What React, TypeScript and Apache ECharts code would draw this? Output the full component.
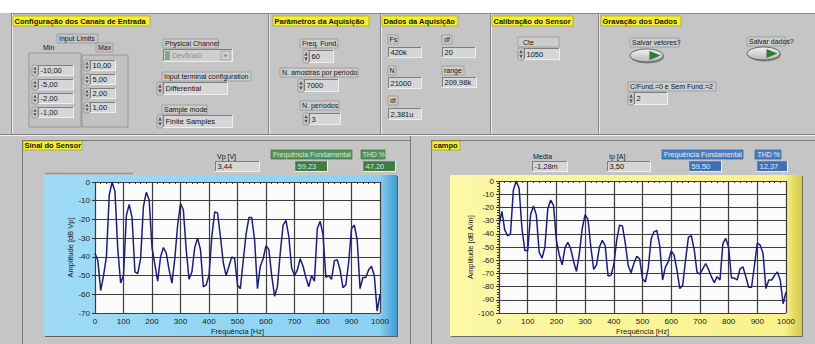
import React, { useEffect, useRef } from "react";
import * as echarts from "echarts";

// ---------- data ----------
const FREQ_HZ = [
  0, 10, 20, 30, 40, 50, 60, 70, 80, 90,
  100, 110, 120, 130, 140, 150, 160, 170, 180, 190,
  200, 210, 220, 230, 240, 250, 260, 270, 280, 290,
  300, 310, 320, 330, 340, 350, 360, 370, 380, 390,
  400, 410, 420, 430, 440, 450, 460, 470, 480, 490,
  500, 510, 520, 530, 540, 550, 560, 570, 580, 590,
  600, 610, 620, 630, 640, 650, 660, 670, 680, 690,
  700, 710, 720, 730, 740, 750, 760, 770, 780, 790,
  800, 810, 820, 830, 840, 850, 860, 870, 880, 890,
  900, 910, 920, 930, 940, 950, 960, 970, 980, 990,
  1000,
];

const SENSOR_DB = [
  -38, -42, -58, -50, -40, -7, 0, -5, -36, -54,
  -50, -18, -12, -19, -48, -49, -41, -13, -5.5, -9.5,
  -35, -44, -53, -40, -35, -38, -47, -54, -41, -23,
  -11.5, -15, -36, -52, -48, -35, -30, -36, -56, -55,
  -50, -29, -16, -16.5, -29, -43, -50, -45, -40, -41,
  -55, -57, -42, -28, -19, -19, -31, -57, -45, -41,
  -34, -36, -50, -61, -56, -38, -23, -20.5, -29, -46,
  -50, -47, -41, -45, -51, -56, -50, -53, -25, -21,
  -28, -51, -50, -52, -42, -41.5, -47, -56.5, -55, -43,
  -25, -23, -31, -57, -51, -51, -47, -45, -50, -69,
  -60,
];

const CAMPO_DB = [
  -33.5, -23, -37, -41.5, -40, -7, 0, -5.5, -36, -52.5,
  -53, -25.5, -19, -25.5, -54, -58.5, -50, -21, -14.5, -18.5,
  -45, -56, -63.5, -50.5, -46.5, -51.5, -61, -68.5, -55, -36,
  -25.5, -29, -50, -67, -63.5, -50, -45, -49, -72, -71.5,
  -63.5, -45, -33.5, -34, -47, -64, -69.5, -62.5, -57, -59,
  -74, -76.5, -66, -44, -38.5, -37.5, -49, -75, -65, -61,
  -53, -56, -67.5, -81.5, -79, -60, -42.5, -41.5, -51.5, -69,
  -70.5, -66.5, -62.5, -67, -72.5, -77, -72.5, -75, -47.5, -43.5,
  -50, -73.5, -73.5, -75, -66.5, -65, -72.5, -80.5, -80.5, -64,
  -47, -48.5, -55, -81.5, -75, -75, -71.5, -69, -75, -93,
  -84,
];

const LIMIT_MIN = ["-10,00", "-5,00", "-2,00", "-1,00"];
const LIMIT_MAX = ["10,00", "5,00", "2,00", "1,00"];

const SENSOR_READOUT = { vp: "3,44", freq: "59,23", thd: "47,20" };
const CAMPO_READOUT = { media: "-1,28m", ip: "3,50", freq: "59,50", thd: "12,37" };

// ---------- styling ----------
const FONT = "Liberation Sans";
const PANEL = "#c5c5c5";
const YEL = "#f6f12e";
const INK = "#141414";

function buildPanel() {
  const els: any[] = [];
  const rect = (x: number, y: number, w: number, h: number, fill: any, stroke: string | null = null, lw = 1, z = 1, r = 0) =>
    els.push({ type: "rect", z, silent: true, shape: { x, y, width: w, height: h, r }, style: { fill: fill ?? "none", stroke: stroke ?? "none", lineWidth: lw } });
  const line = (x1: number, y1: number, x2: number, y2: number, stroke: string, lw = 1, z = 2) =>
    els.push({ type: "line", z, silent: true, shape: { x1, y1, x2, y2 }, style: { stroke, lineWidth: lw } });
  const poly = (pts: number[][], fill: string, z = 4) =>
    els.push({ type: "polygon", z, silent: true, shape: { points: pts }, style: { fill } });
  const text = (x: number, y: number, t: string, o: any = {}) =>
    els.push({
      type: "text", z: 6, silent: true, x, y,
      style: {
        text: t, fill: o.fill || INK, fontSize: o.size || 7, fontFamily: FONT,
        fontWeight: o.bold ? "bold" : "normal", textAlign: o.align || "left", textVerticalAlign: "middle",
      },
    });
  const sunk = (x: number, y: number, w: number, h: number, fill = "#d6d6d6") => {
    rect(x, y, w, h, fill, null, 0, 2);
    line(x, y + 0.5, x + w, y + 0.5, "#7e7e7e", 1, 3);
    line(x + 0.5, y, x + 0.5, y + h, "#7e7e7e", 1, 3);
    line(x, y + h - 0.5, x + w, y + h - 0.5, "#eeeeee", 1, 3);
    line(x + w - 0.5, y, x + w - 0.5, y + h, "#eeeeee", 1, 3);
  };
  const spin = (x: number, y: number, h: number) => {
    rect(x, y, 6, h, "#d2d2d2", "#8a8a8a", 0.8, 3, 2);
    poly([[x + 1.2, y + h / 2 - 0.8], [x + 4.8, y + h / 2 - 0.8], [x + 3, y + 1.6]], "#5a5a5a");
    poly([[x + 1.2, y + h / 2 + 0.8], [x + 4.8, y + h / 2 + 0.8], [x + 3, y + h - 1.6]], "#5a5a5a");
  };
  const ctrl = (x: number, y: number, w: number, h: number, t: string, o: any = {}) => {
    let bx = x;
    if (o.spin) { spin(x, y, h); bx = x + 6; }
    sunk(bx, y, w - (bx - x), h, o.fill);
    text(bx + 2.5, y + h / 2 + 0.3, t, { fill: o.color, size: o.size || 7.5 });
  };
  const lbl = (x: number, y: number, w: number, h: number, t: string, o: any = {}) => {
    rect(x, y, w, h, o.fill || "#cdcdcd", o.stroke || "#8f8f8f", 0.7, 2);
    text(x + (o.pad ?? 2), y + h / 2 + 0.3, t, { fill: o.color, size: o.size || 7 });
  };
  const title = (x: number, y: number, w: number, t: string, h = 10) => {
    rect(x, y, w, h, YEL, "#9a9400", 0.6, 2);
    text(x + 1.5, y + h / 2 + 0.3, t, { bold: true, size: 7.5 });
  };
  const button = (cx: number, cy: number) => {
    els.push({ type: "ellipse", z: 3, silent: true, shape: { cx: cx + 1, cy: cy + 1.5, rx: 16.5, ry: 6.5 }, style: { fill: "#8a8a8a" } });
    els.push({
      type: "ellipse", z: 4, silent: true, shape: { cx, cy, rx: 16.5, ry: 6.5 },
      style: {
        fill: { type: "linear", x: 0, y: 0, x2: 0, y2: 1, colorStops: [{ offset: 0, color: "#f2f2f2" }, { offset: 1, color: "#b8b8b8" }] },
        stroke: "#4a4a4a", lineWidth: 0.8,
      },
    });
    poly([[cx + 3, cy - 4.5], [cx + 14, cy], [cx + 3, cy + 4.5]], "#2e7d2e", 5);
  };

  // background
  rect(0, 13, 815, 331, PANEL, null, 0, 0);

  // top panel frame + separators
  line(11, 13.5, 815, 13.5, "#8a8a8a");
  line(11.5, 13, 11.5, 135, "#8a8a8a");
  line(12.5, 14, 12.5, 134, "#ececec");
  [268, 380, 490, 598].forEach((x) => {
    line(x + 0.5, 14, x + 0.5, 134, "#868686");
    line(x + 1.5, 14, x + 1.5, 134, "#ececec");
  });
  line(0, 134.5, 815, 134.5, "#868686");
  line(0, 135.5, 815, 135.5, "#ececec");

  // bottom panel frames
  line(22.5, 140, 22.5, 344, "#7a7a7a");
  line(22, 140.5, 410, 140.5, "#7a7a7a");
  line(410.5, 136, 410.5, 344, "#7a7a7a");
  line(431.5, 140, 431.5, 344, "#7a7a7a");
  line(431, 140.5, 815, 140.5, "#7a7a7a");

  // section titles
  title(13, 16, 137, "Configuração dos Canais de Entrada");
  title(273, 16, 96, "Parâmetros da Aquisição");
  title(382, 16, 76, "Dados da Aquisição");
  title(492, 16, 81, "Calibração do Sensor");
  title(601, 16, 80, "Gravação dos Dados");
  title(23, 141, 59, "Sinal do Sensor", 9);
  title(432, 141, 28, "campo", 9);

  // --- Configuração dos Canais de Entrada ---
  lbl(57, 34, 41, 9, "Input Limits", { fill: PANEL });
  text(43, 47.5, "Min");
  lbl(96, 43, 17, 9, "Max", { fill: PANEL });
  rect(29, 53, 52, 74, "#c2c2c2", "#8a8a8a", 0.8, 1);
  rect(82, 55, 46, 72, "#c2c2c2", "#8a8a8a", 0.8, 1);
  LIMIT_MIN.forEach((v, i) => ctrl(32, 65 + 14 * i, 42, 11, v, { spin: true }));
  LIMIT_MAX.forEach((v, i) => ctrl(84, 60 + 14 * i, 32, 11, v, { spin: true }));

  lbl(163, 39, 55, 9, "Physical Channel");
  sunk(163, 49, 70, 13, "#cfcfcf");
  rect(165, 51, 5, 9, "#7fa88a", null, 0, 4);
  text(172, 55.8, "Dev5/ai0", { fill: "#8c8c8c", size: 7.5 });
  rect(221, 51, 9, 9, "#d0d0d0", "#9a9a9a", 0.7, 4);
  poly([[223.5, 54.5], [227.5, 54.5], [225.5, 57.5]], "#888888", 5);

  lbl(162, 72, 89, 9, "Input terminal configuration");
  ctrl(157, 82, 71, 13, "Differential", { spin: true });
  lbl(162, 105, 45, 9, "Sample mode");
  ctrl(157, 115, 76, 13, "Finite Samples", { spin: true });

  // --- Parâmetros da Aquisição ---
  lbl(300, 39, 38, 9, "Freq. Fund.");
  ctrl(303, 50, 31, 13, "60", { spin: true });
  lbl(280, 68, 78, 9, "N. amostras por período");
  ctrl(298, 79, 41, 13, "7000", { spin: true });
  lbl(300, 101, 39, 9, "N. períodos");
  ctrl(303, 113, 38, 12, "3", { spin: true });

  // --- Dados da Aquisição ---
  lbl(388, 35, 10, 9, "Fs", { pad: 1.5 });
  ctrl(388, 47, 34, 11, "420k");
  lbl(442, 35, 10, 9, "df", { pad: 2 });
  ctrl(442, 47, 34, 11, "20");
  lbl(388, 66, 8, 9, "N", { pad: 1.5 });
  ctrl(388, 77, 34, 12, "21000");
  lbl(442, 66, 22, 9, "range");
  ctrl(442, 77, 35, 11, "209,98k");
  lbl(388, 96, 10, 9, "dt", { pad: 2 });
  ctrl(388, 108, 34, 12, "2,381u");

  // --- Calibração do Sensor ---
  lbl(518, 37, 41, 10, "Cte", { pad: 5 });
  ctrl(518, 48, 42, 12, "1050", { spin: true });

  // --- Gravação dos Dados ---
  lbl(630, 38, 49, 9, "Salvar vetores?");
  button(646.5, 55.5);
  lbl(747, 37, 38, 9, "Salvar dados?");
  button(763.5, 53.5);
  lbl(628, 82, 88, 9, "C/Fund.=0 e Sem Fund.=2");
  ctrl(628, 92, 40, 13, "2", { spin: true });

  // --- chart frames ---
  line(45, 173.5, 133, 173.5, "#7fa08a", 1.5, 1);
  rect(44, 175, 353, 161, {
    type: "linear", x: 0, y: 0, x2: 1, y2: 0,
    colorStops: [{ offset: 0, color: "#9fdbf6" }, { offset: 0.95, color: "#8bd1f3" }, { offset: 1, color: "#3f9bd0" }],
  }, null, 0, 1);
  line(397.5, 176, 397.5, 337, "#5f5f5f", 1, 2);
  line(45, 336.5, 398, 336.5, "#5f5f5f", 1, 2);
  rect(450, 175, 352, 161, {
    type: "linear", x: 0, y: 0, x2: 1, y2: 0,
    colorStops: [{ offset: 0, color: "#fdf8a6" }, { offset: 0.95, color: "#f8f28e" }, { offset: 1, color: "#d6c942" }],
  }, null, 0, 1);
  line(802.5, 176, 802.5, 337, "#6a6a6a", 1, 2);
  line(451, 336.5, 803, 336.5, "#6a6a6a", 1, 2);

  // --- readouts: Sinal do Sensor ---
  text(217, 156.5, "Vp [V]");
  ctrl(215, 161, 45, 11, SENSOR_READOUT.vp);
  lbl(271, 150, 81, 9, "Frequência Fundamental", { fill: "#56925a", stroke: "#3d6e40", color: "#d6e6d6" });
  ctrl(295, 161, 33, 11, SENSOR_READOUT.freq, { fill: "#3f7d42", color: "#d6e6d6" });
  lbl(361, 150, 24, 9, "THD %", { fill: "#56925a", stroke: "#3d6e40", color: "#d6e6d6", pad: 1.5 });
  ctrl(363, 161, 33, 11, SENSOR_READOUT.thd, { fill: "#3f7d42", color: "#d6e6d6" });

  // --- readouts: campo ---
  text(533, 156.5, "Media");
  ctrl(532, 161, 36, 11, CAMPO_READOUT.media);
  text(609, 156.5, "Ip [A]");
  ctrl(607, 161, 44, 11, CAMPO_READOUT.ip);
  lbl(662, 150, 81, 9, "Frequência Fundamental", { fill: "#4a7fc3", stroke: "#2f5c96", color: "#e4ecf6" });
  ctrl(689, 161, 33, 11, CAMPO_READOUT.freq, { fill: "#3e70b4", color: "#e4ecf6" });
  lbl(755, 150, 26, 9, "THD %", { fill: "#4a7fc3", stroke: "#2f5c96", color: "#e4ecf6", pad: 2.5 });
  ctrl(757, 161, 31, 11, CAMPO_READOUT.thd, { fill: "#3e70b4", color: "#e4ecf6" });

  return els;
}

const plainNumber = (v: number) => String(v);

function xAxisFor(gridIndex: number) {
  return {
    type: "value", gridIndex, min: 0, max: 1000, interval: 100, z: 21,
    axisLine: { show: false },
    axisTick: { show: true, length: 3, lineStyle: { color: "#333333" } },
    minorTick: { show: true, splitNumber: 5, length: 2, lineStyle: { color: "#333333" } },
    axisLabel: { color: "#1a1a1a", fontSize: 8, fontFamily: FONT, margin: 4, formatter: plainNumber },
    splitLine: { show: true, lineStyle: { color: "#3c3c3c", width: 1.2 } },
    name: "Frequência [Hz]", nameLocation: "middle", nameGap: 14,
    nameTextStyle: { color: "#1a1a1a", fontSize: 7.5, fontFamily: FONT },
  };
}

function yAxisFor(gridIndex: number, min: number, name: string, minor: boolean, gap: number) {
  return {
    type: "value", gridIndex, min, max: 0, interval: 10, z: 21,
    axisLine: { show: false },
    axisTick: { show: true, length: 3, lineStyle: { color: "#333333" } },
    minorTick: { show: minor, splitNumber: 5, length: 2, lineStyle: { color: "#333333" } },
    axisLabel: { color: "#1a1a1a", fontSize: 8, fontFamily: FONT, margin: 5, formatter: plainNumber },
    splitLine: { show: true, lineStyle: { color: "#3c3c3c", width: 1.2 } },
    name, nameLocation: "middle", nameRotate: 90, nameGap: gap,
    nameTextStyle: { color: "#1a1a1a", fontSize: 7.5, fontFamily: FONT },
  };
}

export default function App() {
  const ref = useRef<HTMLDivElement>(null);
  useEffect(() => {
    if (!ref.current) return;
    const chart = echarts.init(ref.current, undefined, { renderer: "svg" });
    chart.setOption({
      animation: false,
      graphic: { elements: buildPanel() },
      grid: [
        { left: 95, top: 182, width: 285, height: 131, show: true, backgroundColor: "#fbfbfb", borderWidth: 0, z: 20 },
        { left: 499, top: 181, width: 287, height: 132, show: true, backgroundColor: "#fbfbfb", borderWidth: 0, z: 20 },
      ],
      xAxis: [xAxisFor(0), xAxisFor(1)],
      yAxis: [
        yAxisFor(0, -70, "Amplitude [dB Vp]", false, 17),
        yAxisFor(1, -100, "Amplitude [dB A/m]", true, 21),
      ],
      series: [
        {
          type: "line", xAxisIndex: 0, yAxisIndex: 0, z: 30, symbol: "none", silent: true,
          data: FREQ_HZ.map((f, i) => [f, SENSOR_DB[i]]),
          lineStyle: { color: "#1e1e7a", width: 1.5 },
        },
        {
          type: "line", xAxisIndex: 1, yAxisIndex: 1, z: 30, symbol: "none", silent: true,
          data: FREQ_HZ.map((f, i) => [f, CAMPO_DB[i]]),
          lineStyle: { color: "#1e1e7a", width: 1.5 },
        },
      ],
    });
    return () => chart.dispose();
  }, []);
  return <div ref={ref} style={{ position: "absolute", left: 0, top: 0, width: 815, height: 344 }} />;
}
